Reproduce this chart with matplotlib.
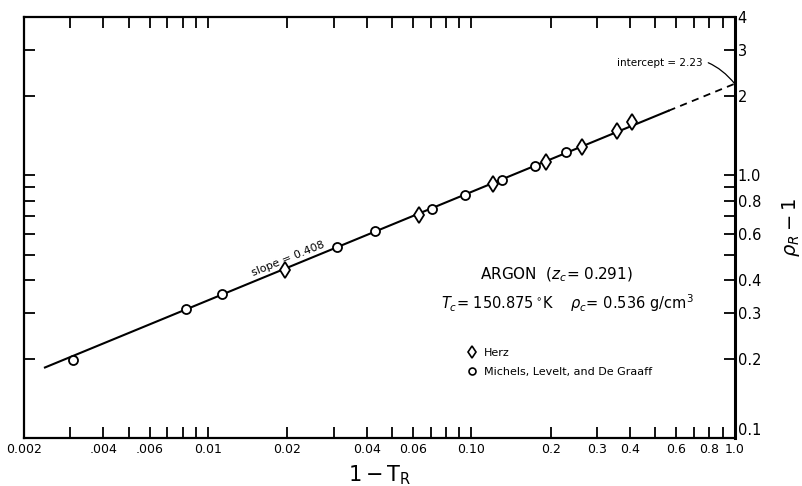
import matplotlib.pyplot as plt
from matplotlib.lines import Line2D

# Data (1 - T_R vs rho_R - 1, argon)
herz_x = [0.0196, 0.0634, 0.121, 0.192, 0.264, 0.358, 0.407]
herz_y = [0.437, 0.707, 0.926, 1.125, 1.287, 1.477, 1.594]

mlg_x = [0.00306, 0.00822, 0.0113, 0.0308, 0.0432, 0.0706, 0.0947, 0.131, 0.174, 0.228]
mlg_y = [0.199, 0.310, 0.353, 0.535, 0.613, 0.743, 0.839, 0.957, 1.090, 1.226]

# fitted line (slope 0.408, intercept 2.23), solid part and dashed extrapolation
fit_x = [0.0024, 0.56]
fit_y = [0.186, 1.76]
ext_x = [0.56, 1.0]
ext_y = [1.76, 2.23]

x_major = [0.002, 0.004, 0.006, 0.01, 0.02, 0.04, 0.06, 0.1, 0.2, 0.3, 0.4, 0.6, 0.8, 1.0]
x_labels = ["0.002", ".004", ".006", "0.01", "0.02", "0.04", "0.06", "0.10",
            "0.2", "0.3", "0.4", "0.6", "0.8", "1.0"]
x_minor = [0.003, 0.005, 0.007, 0.008, 0.009, 0.03, 0.05, 0.07, 0.08, 0.09, 0.5, 0.7, 0.9]

y_major = [0.1, 0.2, 0.3, 0.4, 0.6, 0.8, 1.0, 2, 3, 4]
y_labels = ["0.1", "0.2", "0.3", "0.4", "0.6", "0.8", "1.0", "2", "3", "4"]
y_minor = [0.5, 0.7, 0.9]

fig = plt.figure(figsize=(8.03, 4.86), dpi=100)
ax = fig.add_axes([0.030, 0.098, 0.885, 0.867])
ax.set_xscale("log")
ax.set_yscale("log")
ax.set_xlim(0.002, 1.0)
ax.set_ylim(0.1, 4)

ax.plot(fit_x, fit_y, color="black", lw=1.5, zorder=2)
ax.plot(ext_x, ext_y, color="black", lw=1.3, ls=(0, (4, 3)), zorder=2)
ax.plot(herz_x, herz_y, ls="none", marker="d", ms=8, mfc="white", mec="black", mew=1.3, zorder=3)
ax.plot(mlg_x, mlg_y, ls="none", marker="o", ms=6.5, mfc="white", mec="black", mew=1.3, zorder=3)

ax.set_xticks(x_major)
ax.set_xticklabels(x_labels)
ax.set_xticks(x_minor, minor=True)
ax.set_xticklabels([], minor=True)
ax.set_yticks(y_major)
ax.set_yticklabels(y_labels)
ax.set_yticks(y_minor, minor=True)
ax.set_yticklabels([], minor=True)

ax.tick_params(which="both", direction="in", length=8, width=1.3,
               top=True, right=True, left=True, bottom=True,
               labelleft=False, labelright=True)
ax.tick_params(axis="x", labelsize=9, pad=3)
ax.tick_params(axis="y", labelsize=10.5, pad=2)
# keep the 0.1 label above the corner so it clears the x label "1.0"
ax.get_yticklabels()[0].set_verticalalignment("bottom")
for s in ax.spines.values():
    s.set_linewidth(1.6)
ax.spines["right"].set_linewidth(2.2)

ax.set_xlabel(r"$\mathregular{1-T_R}$", fontsize=15, labelpad=6)
ax.yaxis.set_label_position("right")
ax.set_ylabel(r"$\rho_R - 1$", fontsize=14, labelpad=14)

ax.text(0.0201, 0.483, "slope = 0.408", fontsize=8, rotation=22,
        ha="center", va="center")
ax.annotate("intercept = 2.23", xy=(1.0, 2.23), xytext=(0.757, 2.68),
            fontsize=7.5, ha="right", va="center",
            arrowprops=dict(arrowstyle="-", color="black", lw=0.9,
                            connectionstyle="arc3,rad=-0.35", shrinkA=2, shrinkB=0))

ax.text(0.211, 0.418, r"ARGON  ($z_c$= 0.291)", fontsize=11, ha="center", va="center")
ax.text(0.232, 0.327, r"$T_c$= 150.875$\,^{\circ}$K    $\rho_c$= 0.536 g/cm$^3$",
        fontsize=10.5, ha="center", va="center")

handles = [Line2D([], [], ls="none", marker="d", ms=6.5, mfc="white", mec="black", mew=1.2),
           Line2D([], [], ls="none", marker="o", ms=5, mfc="white", mec="black", mew=1.2)]
ax.legend(handles, ["Herz", "Michels, Levelt, and De Graaff"], frameon=False,
          fontsize=8, loc="upper left", bbox_to_anchor=(0.568, 0.305),
          bbox_transform=fig.transFigure, handletextpad=0.6, labelspacing=0.8,
          handlelength=1.0)

fig.savefig("out.png", dpi=100)
